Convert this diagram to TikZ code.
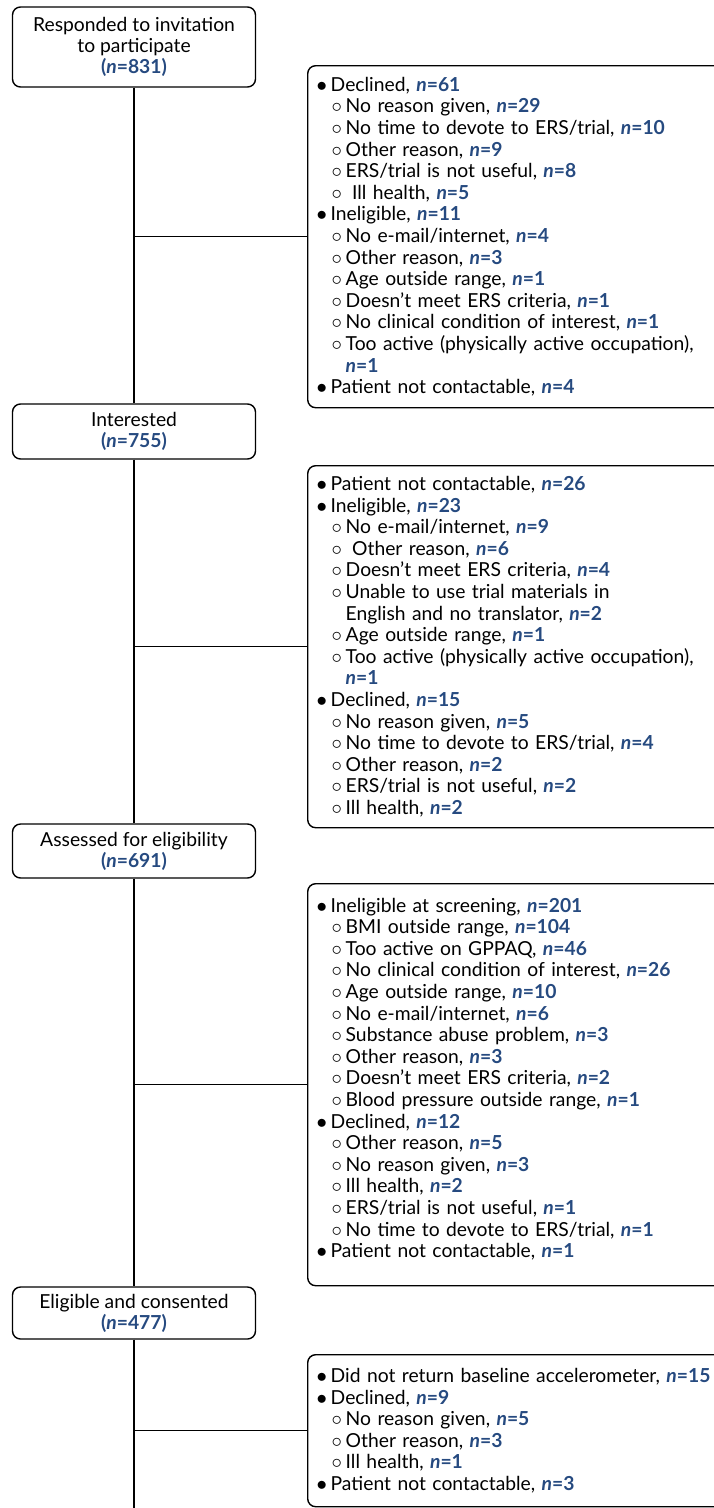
\documentclass[tikz,border=0pt]{standalone}
\usepackage{fontspec}
\setmainfont{Lato}
\usepackage{xcolor}
\usetikzlibrary{positioning}

\definecolor{nblue}{RGB}{38,74,128}
\newcommand{\nv}[1]{{\color{nblue}\bfseries\itshape n\upshape=#1}}
\newcommand{\nb}[1]{{\color{nblue}\bfseries(\textit{n}=#1)}}
\newcommand{\ia}{\makebox[14pt][l]{$\bullet$}}
\newcommand{\ib}{\hspace*{15pt}\makebox[14pt][l]{$\circ$}}
\newcommand{\ic}{\hspace*{29pt}}

\begin{document}
\begin{tikzpicture}[x=1pt, y=-1pt, line width=1.4pt,
    font=\fontsize{19.3}{21.6}\selectfont,
    mainbox/.style={draw, rounded corners=8pt, minimum width=243pt, align=center, inner sep=0pt,
        font=\fontsize{19.3}{21}\selectfont},
    sidebox/.style={draw, rounded corners=8pt, anchor=north west, text width=405pt, align=left, inner xsep=9pt}]
    \useasboundingbox (0,0) rectangle (713,1508);

    % Main flow
    \node[mainbox, minimum height=80pt] (resp) at (134,47) {Responded to invitation\\to participate\\\nb{831}};
    \node[mainbox, minimum height=55pt] (int) at (134,431.5) {Interested\\\nb{755}};
    \node[mainbox, minimum height=54pt] (ass) at (134,851) {Assessed for eligibility\\\nb{691}};
    \node[mainbox, minimum height=52pt] (eli) at (134,1313) {Eligible and consented\\\nb{477}};
    \coordinate (bottom) at (134,1508);

    % Exclusion boxes
    \node[sidebox, minimum height=342pt] (excl1) at (307,65) {%
        \ia Declined, \nv{61}\\
        \ib No reason given, \nv{29}\\
        \ib No time to devote to ERS/trial, \nv{10}\\
        \ib Other reason, \nv{9}\\
        \ib ERS/trial is not useful, \nv{8}\\
        \ib\ Ill health, \nv{5}\\
        \ia Ineligible, \nv{11}\\
        \ib No e-mail/internet, \nv{4}\\
        \ib Other reason, \nv{3}\\
        \ib Age outside range, \nv{1}\\
        \ib Doesn't meet ERS criteria, \nv{1}\\
        \ib No clinical condition of interest, \nv{1}\\
        \ib Too active (physically active occupation),\\
        \ic\nv{1}\\
        \ia Patient not contactable, \nv{4}};
    \node[sidebox, minimum height=362pt] (excl2) at (307,465) {%
        \ia Patient not contactable, \nv{26}\\
        \ia Ineligible, \nv{23}\\
        \ib No e-mail/internet, \nv{9}\\
        \ib\ Other reason, \nv{6}\\
        \ib Doesn't meet ERS criteria, \nv{4}\\
        \ib Unable to use trial materials in\\
        \ic English and no translator, \nv{2}\\
        \ib Age outside range, \nv{1}\\
        \ib Too active (physically active occupation),\\
        \ic\nv{1}\\
        \ia Declined, \nv{15}\\
        \ib No reason given, \nv{5}\\
        \ib No time to devote to ERS/trial, \nv{4}\\
        \ib Other reason, \nv{2}\\
        \ib ERS/trial is not useful, \nv{2}\\
        \ib Ill health, \nv{2}};
    \node[sidebox, minimum height=402pt] (excl3) at (307,883) {%
        \ia Ineligible at screening, \nv{201}\\
        \ib BMI outside range, \nv{104}\\
        \ib Too active on GPPAQ, \nv{46}\\
        \ib No clinical condition of interest, \nv{26}\\
        \ib Age outside range, \nv{10}\\
        \ib No e-mail/internet, \nv{6}\\
        \ib Substance abuse problem, \nv{3}\\
        \ib Other reason, \nv{3}\\
        \ib Doesn't meet ERS criteria, \nv{2}\\
        \ib Blood pressure outside range, \nv{1}\\
        \ia Declined, \nv{12}\\
        \ib Other reason, \nv{5}\\
        \ib No reason given, \nv{3}\\
        \ib Ill health, \nv{2}\\
        \ib ERS/trial is not useful, \nv{1}\\
        \ib No time to devote to ERS/trial, \nv{1}\\
        \ia Patient not contactable, \nv{1}\\[-7.6pt]
        \mbox{}};
    \node[sidebox, minimum height=152pt] (excl4) at (307,1354) {%
        \ia Did not return baseline accelerometer, \nv{15}\\
        \ia Declined, \nv{9}\\
        \ib No reason given, \nv{5}\\
        \ib Other reason, \nv{3}\\
        \ib Ill health, \nv{1}\\
        \ia Patient not contactable, \nv{3}};

    % Connectors
    \draw (resp) -- (int);
    \draw (int) -- (ass);
    \draw (ass) -- (eli);
    \draw (eli.south) -- (bottom);
    \draw (excl1.west) -- (excl1.west -| resp.south);
    \draw (excl2.west) -- (excl2.west -| int.south);
    \draw (excl3.west) -- (excl3.west -| ass.south);
    \draw (excl4.west) -- (excl4.west -| eli.south);
\end{tikzpicture}
\end{document}
